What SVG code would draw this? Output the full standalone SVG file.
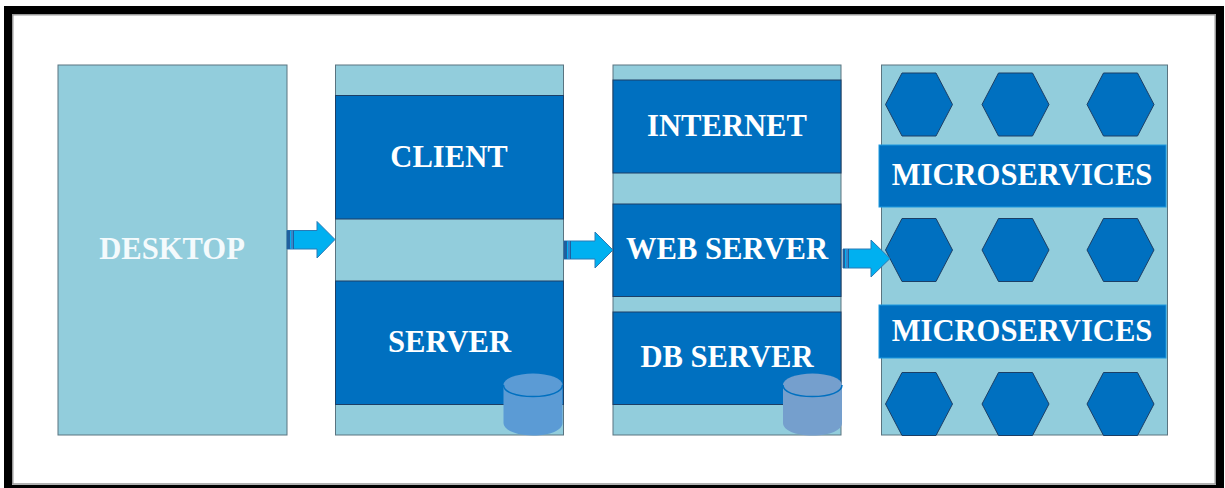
<svg xmlns="http://www.w3.org/2000/svg" width="1225" height="488" viewBox="0 0 1225 488">
<defs>
<style>
.panel{fill:#92cddc;stroke:#5a7480;stroke-width:1}
.block{fill:#0070c0;stroke:#1c3f66;stroke-width:1}
.band{fill:#0070c0;stroke:#1c9ae0;stroke-width:1}
.hex{fill:#0070c0;stroke:#1c3f66;stroke-width:1}
.arrow{fill:#00b0f0;stroke:#2a7ab5;stroke-width:1}
.tail{fill:#1f5f9f}
.tail2{fill:#3a86c8}
text{font-family:"Liberation Serif","Times New Roman",serif;font-weight:bold;font-size:30.600px;fill:#fff;text-anchor:middle}
</style>
<polygon id="h" class="hex" points="-33.500,0 -17,-31.500 17,-31.500 33.500,0 17,31.500 -17,31.500"/>
</defs>
<rect width="1225" height="488" fill="#fff"/>
<g id="frame"><rect x="8" y="10" width="1212" height="479" fill="none" stroke="#000" stroke-width="8"/><rect x="12.750" y="14.750" width="1202.500" height="469.250" fill="none" stroke="#999" stroke-width="1.500"/></g>
<g id="desktop"><rect class="panel" x="58" y="65" width="229" height="370"/><text x="172" y="259" style="fill:#f4fafc">DESKTOP</text></g>
<g id="client-server"><rect class="panel" x="335.500" y="65" width="228" height="370"/>
<g id="client"><rect class="block" x="335.500" y="95.500" width="228" height="123.500"/><text x="449" y="167">CLIENT</text></g>
<g id="server"><rect class="block" x="335.500" y="281" width="228" height="123.500"/><text x="449.500" y="352">SERVER</text></g>
<g id="db1"><path d="M503.500 385V423C503.500 430 516 435.500 533 435.500C550 435.500 562.500 430 562.500 423V385Z" fill="#5b9bd5"/><ellipse cx="533" cy="385" rx="29.500" ry="11.500" fill="#5b9bd5"/><path d="M503.500 385C503.500 392 516 396.500 533 396.500C550 396.500 562.500 392 562.500 385" fill="none" stroke="#0070c0" stroke-width="1.500"/></g></g>
<g id="web-tier"><rect class="panel" x="613" y="65" width="228" height="370"/>
<g id="internet"><rect class="block" x="613" y="80" width="228" height="93"/><text x="727" y="136">INTERNET</text></g>
<g id="web-server"><rect class="block" x="613" y="204" width="228" height="92.500"/><text x="727" y="259">WEB SERVER</text></g>
<g id="db-server"><rect class="block" x="613" y="312" width="228" height="92.500"/><text x="727" y="367">DB SERVER</text></g>
<g id="db2"><path d="M783 385V423C783 430 795 435.500 812.500 435.500C830 435.500 842 430 842 423V385Z" fill="#759fcd"/><ellipse cx="812.500" cy="385" rx="29.500" ry="11.500" fill="#759fcd"/><path d="M783 385C783 392 795 396.500 812.500 396.500C830 396.500 842 392 842 385" fill="none" stroke="#0070c0" stroke-width="1.500"/></g></g>
<g id="microservices"><rect class="panel" x="881.500" y="65" width="286" height="370"/>
<use href="#h" x="919" y="104.500"/><use href="#h" x="1015.500" y="104.500"/><use href="#h" x="1120.500" y="104.500"/>
<use href="#h" x="919" y="250"/><use href="#h" x="1015.500" y="250"/><use href="#h" x="1120.500" y="250"/>
<use href="#h" x="919" y="404"/><use href="#h" x="1015.500" y="404"/><use href="#h" x="1120.500" y="404"/>
<g id="ms1"><rect class="band" x="879" y="145" width="287" height="62"/><text x="1022" y="185">MICROSERVICES</text></g>
<g id="ms2"><rect class="band" x="879" y="305" width="287" height="53"/><text x="1022" y="341">MICROSERVICES</text></g></g>
<g id="connectors">
<g id="a1"><path class="arrow" d="M287 230.500H317V221.500L335 239.500L317 258V249H287Z"/><rect class="tail" x="287" y="230.500" width="3" height="18.500"/><rect class="tail2" x="291" y="230.500" width="2" height="18.500"/><rect class="tail" x="293" y="230.500" width="1" height="18.500"/></g>
<g id="a2"><path class="arrow" d="M564 241H595V232L613 250L595 268V259H564Z"/><rect class="tail" x="564" y="241" width="3" height="18"/><rect class="tail2" x="568" y="241" width="2" height="18"/><rect class="tail" x="570" y="241" width="1" height="18"/></g>
<g id="a3"><path class="arrow" d="M843 249H871V240L890 258.500L871 277V268H843Z"/><rect class="tail" x="843" y="249" width="2" height="19"/><rect class="tail2" x="846" y="249" width="2" height="19"/><rect class="tail" x="848" y="249" width="1" height="19"/></g>
</g>
</svg>
